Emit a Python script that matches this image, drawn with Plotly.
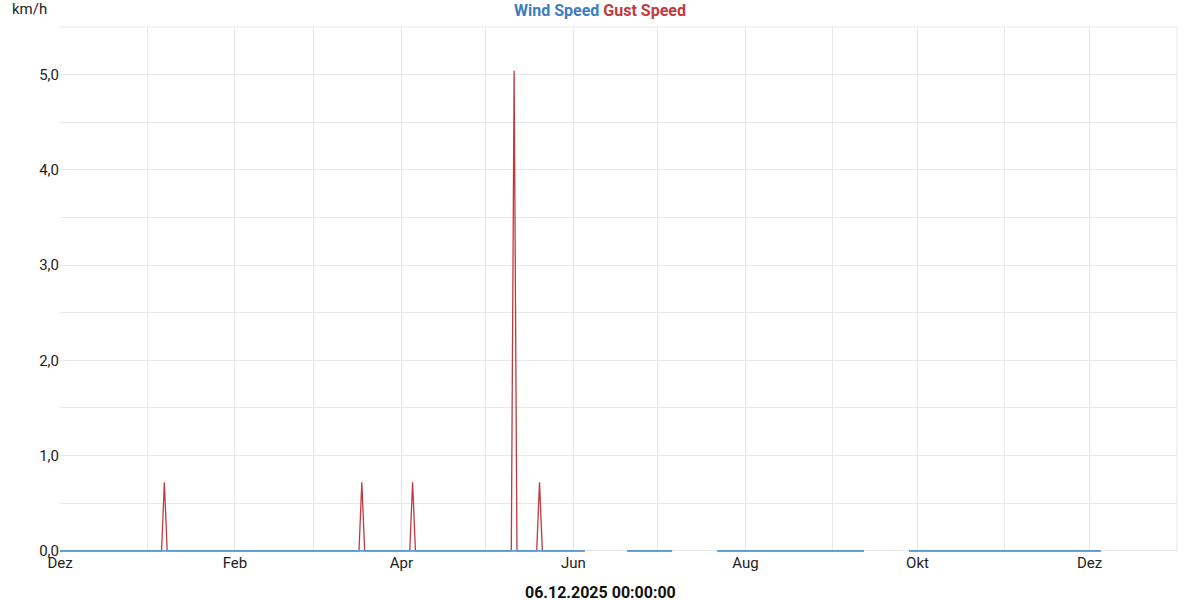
import pandas as pd
import plotly.graph_objects as go

# Data segments (daily readings present), inclusive date ranges
segments = [
    ("2024-12-01", "2025-06-05"),
    ("2025-06-20", "2025-07-06"),
    ("2025-07-22", "2025-09-12"),
    ("2025-09-28", "2025-12-05"),
]
# Gust spikes (km/h); all other readings are 0
gust_dates = ["2025-01-07", "2025-03-18", "2025-04-05", "2025-05-11", "2025-05-20"]
gust_values = [0.72, 0.72, 0.72, 5.04, 0.72]

month_ticks = ["2024-12-01", "2025-02-01", "2025-04-01", "2025-06-01",
               "2025-08-01", "2025-10-01", "2025-12-01"]
month_labels = ["Dez", "Feb", "Apr", "Jun", "Aug", "Okt", "Dez"]

# Build daily series with gaps (None) between segments
all_days = pd.date_range("2024-12-01", "2025-12-05", freq="D")
present = set()
for s, e in segments:
    for d in pd.date_range(s, e, freq="D"):
        present.add(d)
gust_map = {pd.Timestamp(d): v for d, v in zip(gust_dates, gust_values)}
wind = [0.0 if d in present else None for d in all_days]
gust = [(gust_map.get(d, 0.0) if d in present else None) for d in all_days]

BLUE = "#3b7dbf"
RED = "#bf3a3d"

fig = go.Figure()
fig.add_trace(go.Scatter(x=all_days, y=gust, mode="lines", name="Gust Speed",
                         line=dict(color=RED, width=1.3), connectgaps=False))
fig.add_trace(go.Scatter(x=all_days, y=wind, mode="lines", name="Wind Speed",
                         line=dict(color="#5a9bd3", width=1.8), connectgaps=False))

fig.update_layout(
    width=1200, height=600,
    margin=dict(l=60, r=23, t=27, b=48, autoexpand=False),
    paper_bgcolor="white", plot_bgcolor="white",
    showlegend=False,
    separators=",.",
    font=dict(family="Roboto", size=15, color="#222"),
    title=dict(
        text=f"<b><span style='color:{BLUE}'>Wind Speed</span> <span style='color:{RED}'>Gust Speed</span></b>",
        x=0.5, xanchor="center", y=1 - 10/600, yanchor="middle", yref="container",
        font=dict(family="Roboto", size=16),
    ),
    annotations=[
        dict(text="km/h", xref="paper", yref="paper", x=-50/1117, y=1.0 + 18/525,
             xanchor="left", yanchor="middle", showarrow=False,
             font=dict(family="Roboto", size=15, color="#222")),
        dict(text="<b>06.12.2025 00:00:00</b>", xref="paper", yref="paper",
             x=(600 - 60) / 1117, y=-(592 - 552) / 525,
             xanchor="center", yanchor="middle", showarrow=False,
             font=dict(family="Roboto", size=16, color="#111")),
    ],
)
fig.update_xaxes(
    automargin=False,
    range=["2024-12-01", "2026-01-01"],
    tickvals=month_ticks, ticktext=month_labels,
    showgrid=True, gridcolor="#e8e8e8", gridwidth=1,
    minor=dict(dtick="M1", tick0="2024-12-01", showgrid=True, gridcolor="#e8e8e8"),
    ticks="", showline=False, zeroline=False,
    tickfont=dict(family="Roboto", size=15, color="#222"),
)
fig.update_yaxes(
    automargin=False,
    range=[-0.012, 5.5], tickvals=[0, 1, 2, 3, 4, 5], tickformat=".1f",
    showgrid=True, gridcolor="#e8e8e8",
    minor=dict(tickvals=[0.5, 1.5, 2.5, 3.5, 4.5, 5.5], showgrid=True, gridcolor="#e8e8e8"),
    zeroline=False, showline=False, ticks="",
    tickfont=dict(family="Roboto", size=15, color="#222"),
)
fig.add_shape(type="line", xref="paper", yref="paper", x0=1, x1=1, y0=0, y1=1,
              line=dict(color="#e8e8e8", width=1))
fig.add_shape(type="line", xref="paper", yref="paper", x0=0, x1=1, y0=1, y1=1,
              line=dict(color="#e8e8e8", width=1))

fig.write_html("out.html", config={"displayModeBar": False},
               post_script="document.body.style.margin='0';document.body.style.overflow='hidden';")
